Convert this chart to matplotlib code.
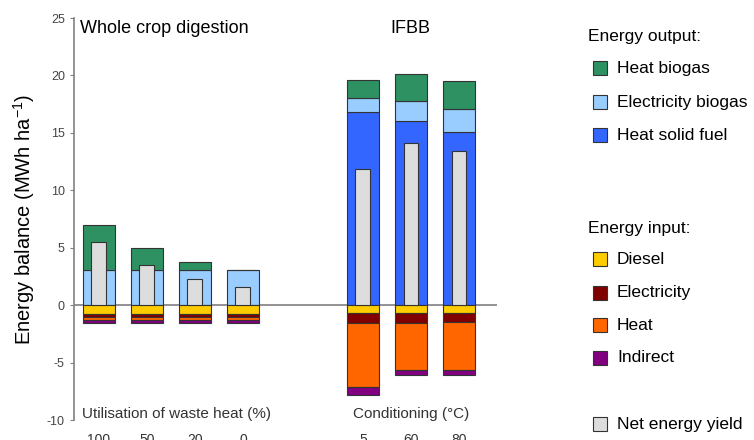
import numpy as np
import matplotlib.pyplot as plt
from matplotlib.patches import Rectangle

plt.rcParams['font.family'] = ['Liberation Sans', 'DejaVu Sans']
plt.rcParams['axes.unicode_minus'] = False
plt.rcParams['mathtext.fontset'] = 'custom'
plt.rcParams['mathtext.rm'] = 'Liberation Sans'

# bar data (MWh/ha), first 4 = whole crop digestion, last 3 = IFBB
tick_labels = ["100", "50", "20", "0", "5", "60", "80"]
heat_biogas = [3.95, 1.95, 0.75, 0.0, 1.6, 2.3, 2.45]
elec_biogas = [3.05, 3.05, 3.05, 3.05, 1.25, 1.75, 1.95]
heat_solid = [0.0, 0.0, 0.0, 0.0, 16.8, 16.05, 15.1]
diesel = [0.75, 0.75, 0.75, 0.75, 0.67, 0.67, 0.67]
electricity = [0.25, 0.25, 0.25, 0.25, 0.83, 0.83, 0.78]
heat_in = [0.25, 0.25, 0.25, 0.25, 5.63, 4.1, 4.15]
indirect = [0.25, 0.25, 0.25, 0.25, 0.72, 0.5, 0.5]
net_yield = [5.5, 3.5, 2.3, 1.55, 11.9, 14.1, 13.4]

pos = np.array([0, 1, 2, 3, 5.5, 6.5, 7.5])

c_heat_bg = "#2e9162"
c_elec_bg = "#99ccff"
c_solid = "#3366ff"
c_diesel = "#ffcc00"
c_elec = "#800000"
c_heat = "#ff6600"
c_ind = "#800080"
c_net = "#dddddd"
edge = "#333333"

fig = plt.figure(figsize=(7.54, 4.40), dpi=100)
ax = fig.add_axes([0.098, 0.045, 0.561, 0.914])

w = 0.67
bottom = np.zeros(len(pos))
for vals, col in [(heat_solid, c_solid), (elec_biogas, c_elec_bg), (heat_biogas, c_heat_bg)]:
    v = np.array(vals)
    ax.bar(pos, v, w, bottom=bottom, color=col, edgecolor=edge, linewidth=0.8)
    bottom += v

bottom = np.zeros(len(pos))
for vals, col in [(diesel, c_diesel), (electricity, c_elec), (heat_in, c_heat), (indirect, c_ind)]:
    v = -np.array(vals)
    ax.bar(pos, v, w, bottom=bottom, color=col, edgecolor=edge, linewidth=0.8)
    bottom += v

ax.bar(pos, net_yield, 0.31, color=c_net, edgecolor=edge, linewidth=0.8)

ax.axhline(0, color="#808080", lw=1.2, zorder=0.5)

ax.set_xlim(-0.52, 8.29)
ax.set_ylim(-10, 25)
ax.set_yticks(range(-10, 26, 5))
ax.set_xticks(pos)
ax.set_xticklabels(tick_labels)
ax.tick_params(axis='x', length=0, pad=9, labelsize=10, labelcolor="#333333")
ax.tick_params(axis='y', length=3, color="#808080", labelsize=9, labelcolor="#444444")
for s in ["top", "right", "bottom"]:
    ax.spines[s].set_visible(False)
ax.spines["left"].set_color("#808080")
ax.spines["left"].set_linewidth(1.2)

ax.set_ylabel("Energy balance (MWh ha$^{\\mathregular{-1}}$)", fontsize=14.5, labelpad=7)

ax.text(-0.4, 24.1, "Whole crop digestion", fontsize=13, va="center")
ax.text(6.48, 24.1, "IFBB", fontsize=13, va="center", ha="center")
ax.text(-0.35, -9.5, "Utilisation of waste heat (%)", fontsize=11, va="center", color="#333333")
ax.text(5.29, -9.5, "Conditioning (\u00b0C)", fontsize=11, va="center", color="#333333")

# legend drawn by hand in figure coordinates
W, H = 754, 440


def swatch(ypix, col, label):
    fig.patches.append(Rectangle((593 / W, 1 - (ypix + 7) / H), 14 / W, 14 / H,
                                 transform=fig.transFigure, facecolor=col,
                                 edgecolor=edge, linewidth=0.8))
    fig.text(617 / W, 1 - ypix / H, label, fontsize=12.5, va="center")


fig.text(588 / W, 1 - 37 / H, "Energy output:", fontsize=12.5, va="center")
swatch(68, c_heat_bg, "Heat biogas")
swatch(102, c_elec_bg, "Electricity biogas")
swatch(135, c_solid, "Heat solid fuel")
fig.text(588 / W, 1 - 228 / H, "Energy input:", fontsize=12.5, va="center")
swatch(259, c_diesel, "Diesel")
swatch(293, c_elec, "Electricity")
swatch(325, c_heat, "Heat")
swatch(358, c_ind, "Indirect")
swatch(424, c_net, "Net energy yield")

fig.savefig("out.png", dpi=100)
